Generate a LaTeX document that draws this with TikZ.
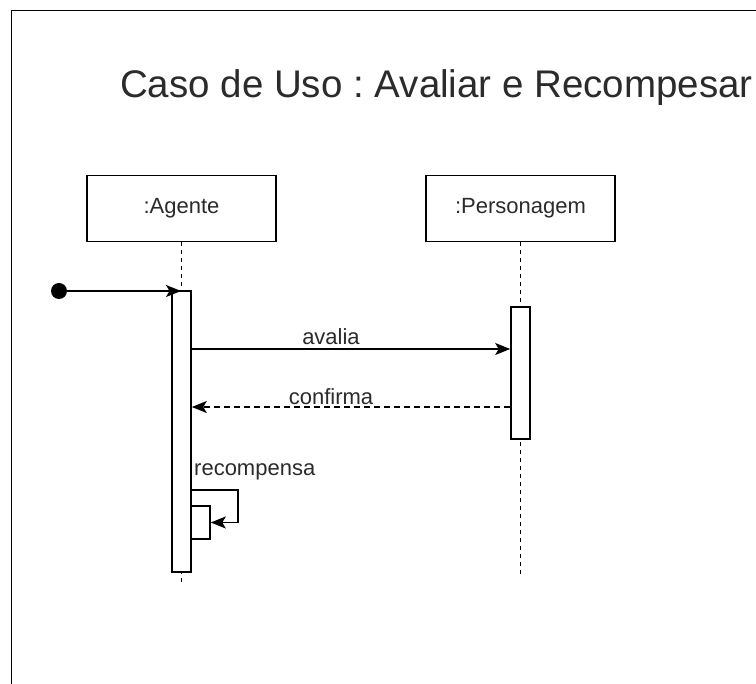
\documentclass[tikz,border=0pt]{standalone}
\usepackage{fontspec}
\setmainfont{Liberation Sans}
\usetikzlibrary{arrows.meta}
\definecolor{txt}{HTML}{2B2B2B}
\definecolor{ln}{HTML}{000000}
\frenchspacing
\begin{document}
\begin{tikzpicture}[x=1pt,y=-1pt,
  lbl/.style={text=txt, inner sep=0pt, font=\fontsize{22}{26}\selectfont},
  lifebox/.style={draw=ln, line width=1.6pt, fill=white, minimum width=189pt,
    minimum height=66pt, inner sep=0pt, text=txt, font=\fontsize{22}{26}\selectfont},
  act/.style={draw=ln, line width=1.6pt, fill=white, minimum width=19pt, inner sep=0pt},
  lifeline/.style={draw=ln, line width=1.4pt, dash pattern=on 4pt off 4pt},
  tip/.style={-{Stealth[length=15pt,width=12pt,inset=3.5pt]}},
  msg/.style={draw=ln, line width=1.6pt, tip},
  reply/.style={msg, dash pattern=on 6pt off 4pt}
]
\useasboundingbox (0,0) rectangle (756,684);
\fill[white] (0,0) rectangle (756,684);

% outer frame (only its top and left edges are in view)
\draw[line width=1.8pt, ln] (11.5,684) -- (11.5,10.5) -- (756,10.5);

% title
\node[text=txt, inner sep=0pt, font=\fontsize{38.5}{45}\selectfont] (title) at (436.5,88)
  {Caso de Uso : Avaliar e Recompesar};

% participants
\node[lifebox] (agente) at (181.5,208.5) {:Agente};
\node[lifebox] (perso) at (520.5,208.5) {:Personagem};

% lifeline ends
\coordinate (endA) at (181.5,586);
\coordinate (endP) at (520.5,575);
\draw[lifeline] (agente.south) -- (endA);
\draw[lifeline] (perso.south) -- (endP);

% activations
\node[act, minimum height=281pt] (actA) at (181.5,431.5) {};
\node[act, minimum height=132pt] (actP) at (520.5,373) {};
\node[act, minimum height=33pt] (actR) at (200.5,522.5) {};

% found message
\node[circle, fill=ln, minimum size=16pt, inner sep=0pt] (start) at (59,291) {};
\coordinate (foundEnd) at (181,291);
\draw[msg] (start.center) -- (foundEnd);

% message rows
\coordinate (yav) at (0,349);
\coordinate (yconf) at (0,407);
\coordinate (yrec) at (0,490);
\coordinate (loopc) at (238,490);

\draw[msg] (actA.east |- yav) -- (actP.west |- yav);
\node[lbl] (lav) at (331,337) {avalia};

\draw[reply] (actP.west |- yconf) -- (actA.east |- yconf);
\node[lbl] (lconf) at (331,397) {confirma};

\draw[msg] (actA.east |- yrec) -- (loopc) |- (actR.east);
\node[lbl, anchor=west] (lrec) at (194,472) {recompensa};
\end{tikzpicture}
\end{document}
